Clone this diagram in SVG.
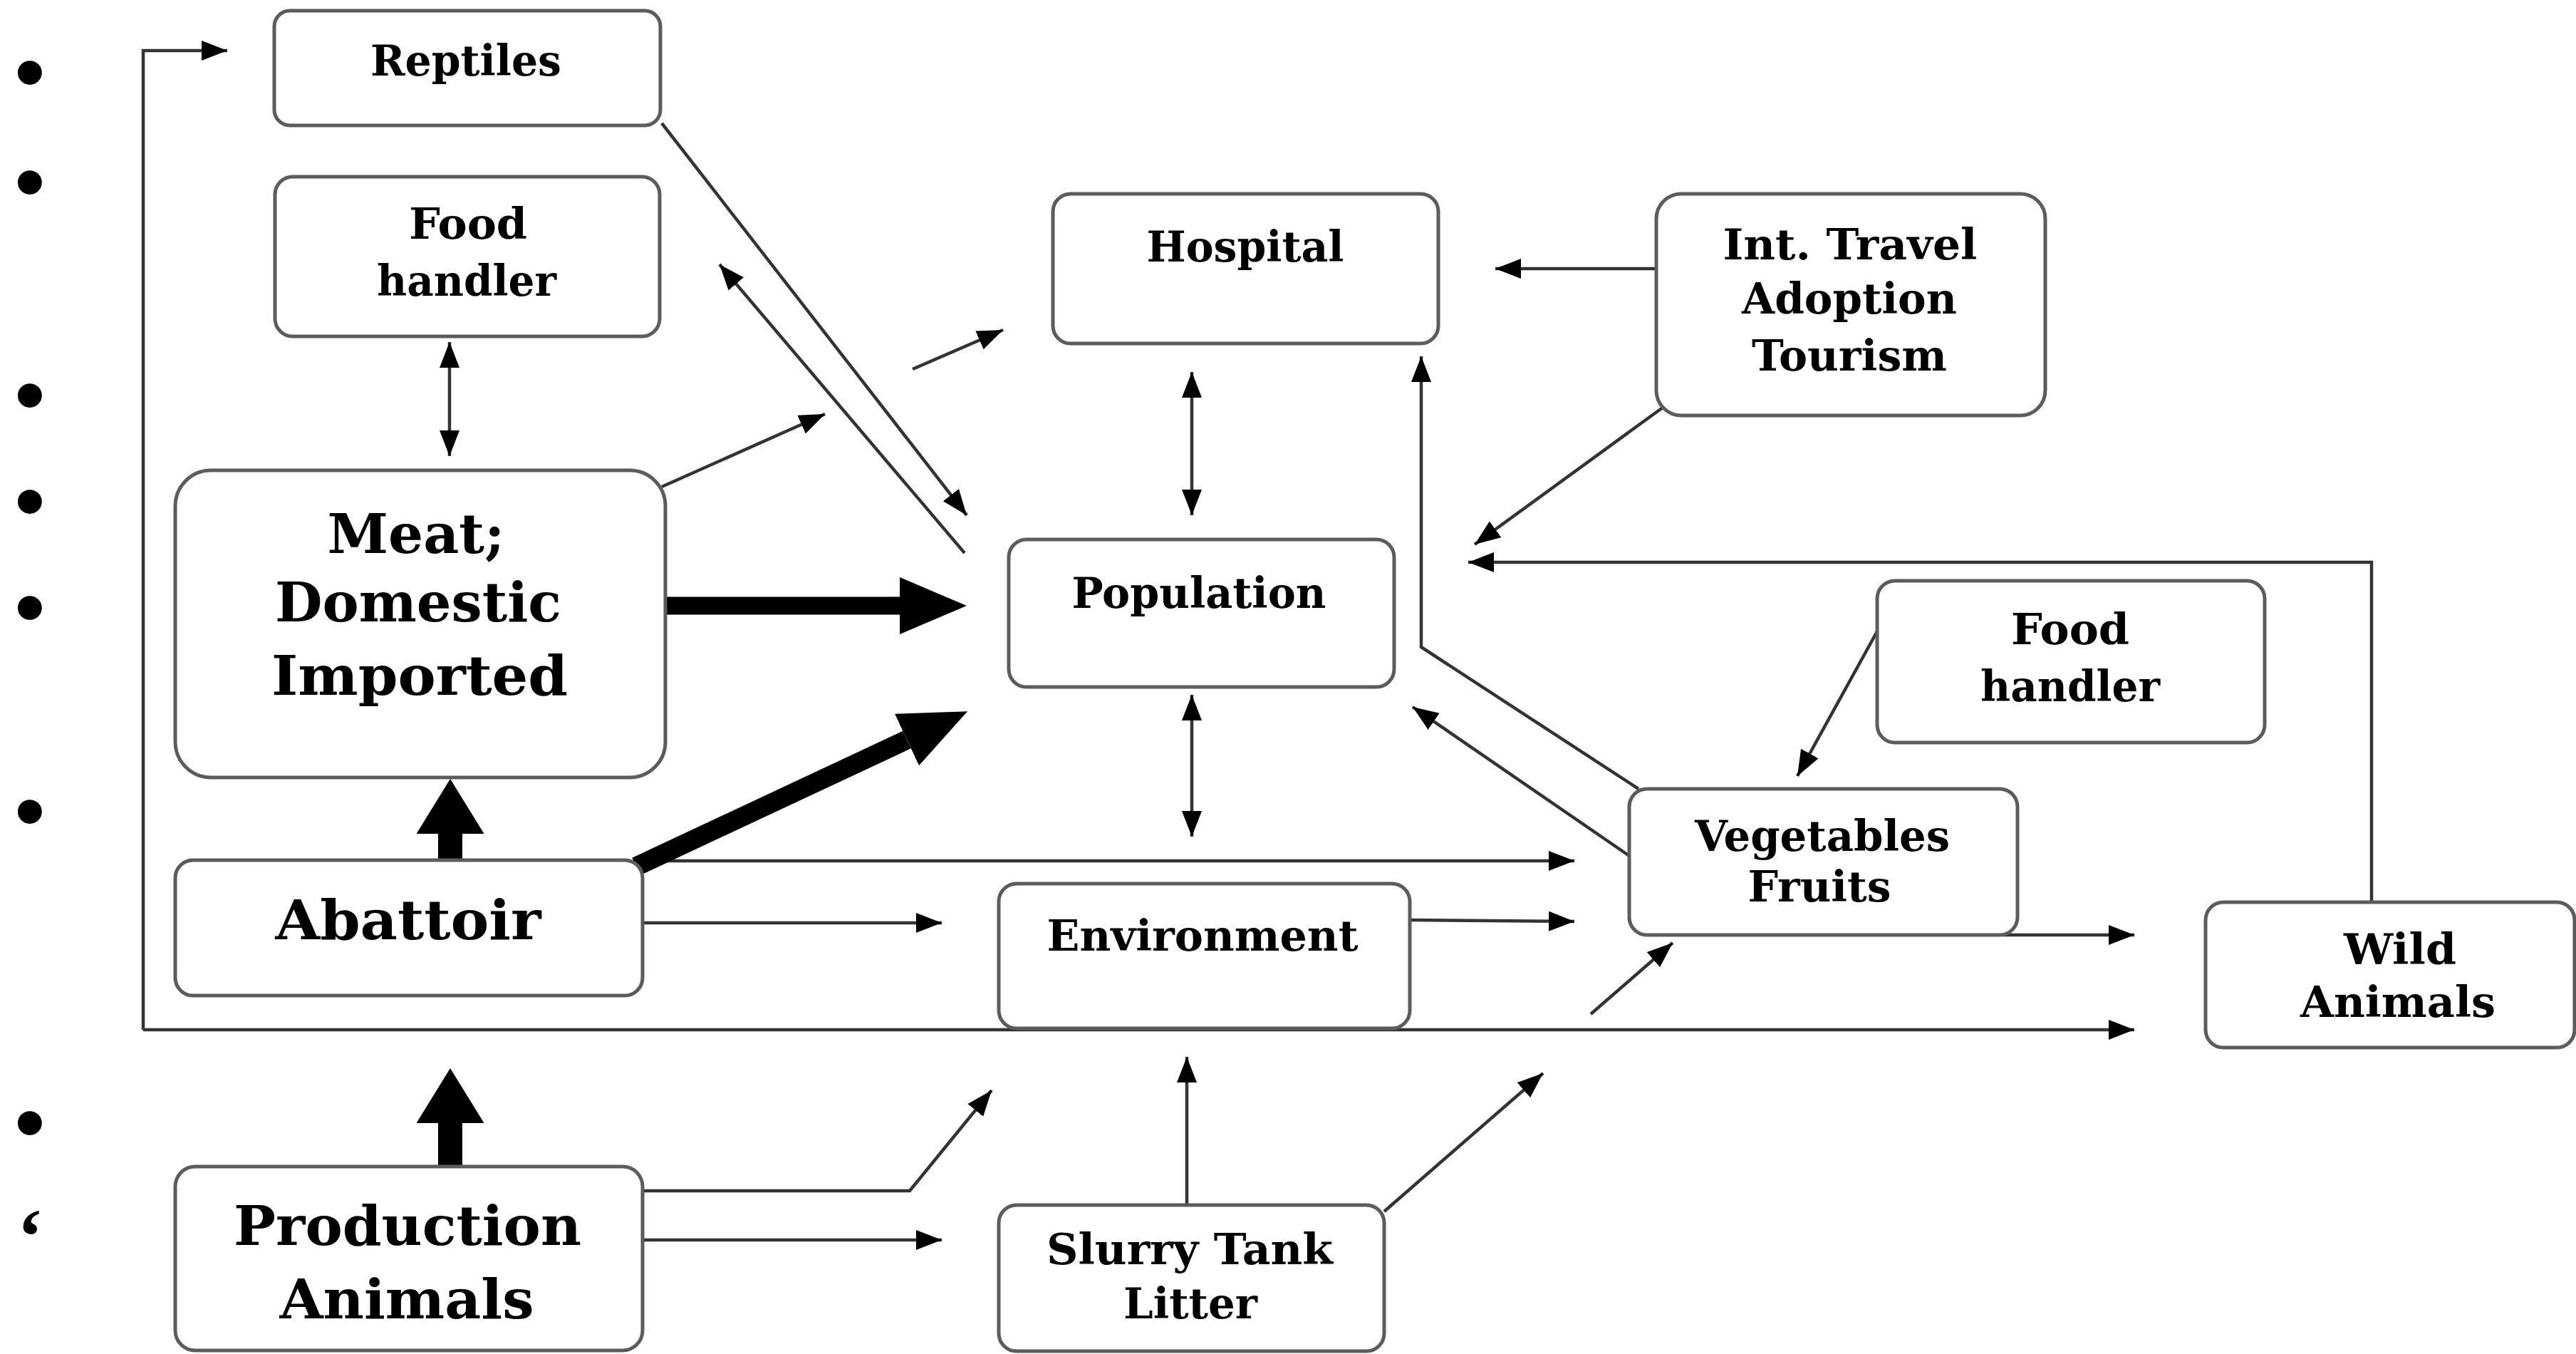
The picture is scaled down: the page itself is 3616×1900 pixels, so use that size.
<svg xmlns="http://www.w3.org/2000/svg" width="3616" height="1900" viewBox="0 0 3616 1900">
<style>
.box{fill:#fff;stroke:#5c5c5c;stroke-width:5}
.t{font-family:"DejaVu Serif","Liberation Serif",serif;font-weight:bold;font-size:59px;fill:#000;text-anchor:middle}
.tl{font-family:"DejaVu Serif","Liberation Serif",serif;font-weight:bold;font-size:77px;fill:#000;text-anchor:middle}
.c{fill:none;stroke:#333;stroke-width:4.5}
.bul{font-family:"Liberation Serif",serif;font-weight:bold;font-size:125px;fill:#000}
</style>
<defs>
<marker id="a" markerUnits="userSpaceOnUse" markerWidth="40" markerHeight="32" refX="36" refY="14" orient="auto-start-reverse"><path d="M0,0 L36,14 L0,28 z" fill="#000"/></marker>
<marker id="th" markerUnits="userSpaceOnUse" markerWidth="96" markerHeight="82" refX="0" refY="40" orient="auto"><path d="M0,0 L94,40 L0,80 z" fill="#000"/></marker>
<marker id="tv" markerUnits="userSpaceOnUse" markerWidth="80" markerHeight="96" refX="0" refY="47.5" orient="auto"><path d="M0,0 L77,47.5 L0,95 z" fill="#000"/></marker>
</defs>
<g id="bullets">
<text class="bul" x="20" y="144">•</text>
<text class="bul" x="20" y="298">•</text>
<text class="bul" x="20" y="597">•</text>
<text class="bul" x="20" y="746">•</text>
<text class="bul" x="20" y="895">•</text>
<text class="bul" x="20" y="1181">•</text>
<text class="bul" x="20" y="1618">•</text>
<text class="bul" x="24" y="1772" style="font-size:110px">‘</text>
</g>
<g id="connectors">
<path class="c" d="M201,1445 L201,71 L319,71" marker-end="url(#a)"/>
<path class="c" d="M201,1445 L2996,1445" marker-end="url(#a)"/>
<path class="c" d="M929,173 L1357,723" marker-end="url(#a)"/>
<path class="c" d="M1354,776 L1010,371" marker-end="url(#a)"/>
<path class="c" d="M631,480 L631,640" marker-start="url(#a)" marker-end="url(#a)"/>
<path class="c" d="M929,683 L1158,581" marker-end="url(#a)"/>
<path class="c" d="M1281,518 L1408,463" marker-end="url(#a)"/>
<path class="c" d="M1673,522 L1673,723" marker-start="url(#a)" marker-end="url(#a)"/>
<path class="c" d="M1673,975 L1673,1174" marker-start="url(#a)" marker-end="url(#a)"/>
<path class="c" d="M2328,377 L2099,377" marker-end="url(#a)"/>
<path class="c" d="M2338,569 L2070,764" marker-end="url(#a)"/>
<path class="c" d="M3329,1266 L3329,789 L2061,789" marker-end="url(#a)"/>
<path class="c" d="M2300,1107 L1995,908 L1995,500" marker-end="url(#a)"/>
<path class="c" d="M2290,1203 L1983,992" marker-end="url(#a)"/>
<path class="c" d="M2635,886 L2523,1089" marker-end="url(#a)"/>
<path class="c" d="M899,1208 L2210,1208" marker-end="url(#a)"/>
<path class="c" d="M902,1295 L1322,1295" marker-end="url(#a)"/>
<path class="c" d="M1979,1291 L2210,1293" marker-end="url(#a)"/>
<path class="c" d="M2810,1312 L2996,1312" marker-end="url(#a)"/>
<path class="c" d="M2233,1423 L2348,1323" marker-end="url(#a)"/>
<path class="c" d="M902,1671 L1277,1671 L1392,1530" marker-end="url(#a)"/>
<path class="c" d="M902,1740 L1322,1740" marker-end="url(#a)"/>
<path class="c" d="M1666,1691 L1666,1483" marker-end="url(#a)"/>
<path class="c" d="M1943,1700 L2166,1506" marker-end="url(#a)"/>
<path d="M934,850 L1263,850" stroke="#000" stroke-width="25" fill="none" marker-end="url(#th)"/>
<path d="M893,1216 L1273,1038" stroke="#000" stroke-width="27" fill="none" marker-end="url(#th)"/>
<path d="M632,1207 L632,1170" stroke="#000" stroke-width="34" fill="none" marker-end="url(#tv)"/>
<path d="M632,1637 L632,1576" stroke="#000" stroke-width="34" fill="none" marker-end="url(#tv)"/>
</g>
<g id="reptiles"><rect class="box" x="385" y="15" width="542" height="161" rx="22"/><text class="t" x="654" y="106" textLength="268" lengthAdjust="spacingAndGlyphs">Reptiles</text></g>
<g id="food-handler-1"><rect class="box" x="386" y="248" width="540" height="224" rx="25"/><text class="t" x="657" y="335" textLength="166" lengthAdjust="spacingAndGlyphs">Food</text><text class="t" x="655" y="415" textLength="252" lengthAdjust="spacingAndGlyphs">handler</text></g>
<g id="meat"><rect class="box" x="246" y="660" width="688" height="431" rx="50"/><text class="tl" x="584" y="776" textLength="249" lengthAdjust="spacingAndGlyphs">Meat;</text><text class="tl" x="587" y="872" textLength="402" lengthAdjust="spacingAndGlyphs">Domestic</text><text class="tl" x="589" y="975" textLength="416" lengthAdjust="spacingAndGlyphs">Imported</text></g>
<g id="abattoir"><rect class="box" x="246" y="1207" width="656" height="190" rx="25"/><text class="tl" x="573" y="1318" textLength="373" lengthAdjust="spacingAndGlyphs">Abattoir</text></g>
<g id="production-animals"><rect class="box" x="246" y="1637" width="656" height="258" rx="28"/><text class="tl" x="572" y="1747" textLength="488" lengthAdjust="spacingAndGlyphs">Production</text><text class="tl" x="571" y="1850" textLength="357" lengthAdjust="spacingAndGlyphs">Animals</text></g>
<g id="hospital"><rect class="box" x="1478" y="272" width="541" height="210" rx="25"/><text class="t" x="1748" y="367" textLength="277" lengthAdjust="spacingAndGlyphs">Hospital</text></g>
<g id="population"><rect class="box" x="1416" y="757" width="541" height="207" rx="25"/><text class="t" x="1683" y="853" textLength="357" lengthAdjust="spacingAndGlyphs">Population</text></g>
<g id="environment"><rect class="box" x="1402" y="1240" width="577" height="203" rx="25"/><text class="t" x="1688" y="1334" textLength="437" lengthAdjust="spacingAndGlyphs">Environment</text></g>
<g id="slurry-tank"><rect class="box" x="1402" y="1691" width="541" height="205" rx="25"/><text class="t" x="1670" y="1774" textLength="402" lengthAdjust="spacingAndGlyphs">Slurry Tank</text><text class="t" x="1671" y="1850" textLength="188" lengthAdjust="spacingAndGlyphs">Litter</text></g>
<g id="int-travel"><rect class="box" x="2325" y="272" width="546" height="311" rx="35"/><text class="t" x="2597" y="364" textLength="357" lengthAdjust="spacingAndGlyphs">Int. Travel</text><text class="t" x="2596" y="440" textLength="302" lengthAdjust="spacingAndGlyphs">Adoption</text><text class="t" x="2596" y="520" textLength="274" lengthAdjust="spacingAndGlyphs">Tourism</text></g>
<g id="food-handler-2"><rect class="box" x="2635" y="815" width="544" height="227" rx="25"/><text class="t" x="2906" y="904" textLength="166" lengthAdjust="spacingAndGlyphs">Food</text><text class="t" x="2906" y="984" textLength="252" lengthAdjust="spacingAndGlyphs">handler</text></g>
<g id="vegetables-fruits"><rect class="box" x="2287" y="1107" width="545" height="205" rx="25"/><text class="t" x="2558" y="1194" textLength="358" lengthAdjust="spacingAndGlyphs">Vegetables</text><text class="t" x="2554" y="1265" textLength="201" lengthAdjust="spacingAndGlyphs">Fruits</text></g>
<g id="wild-animals"><rect class="box" x="3096" y="1266" width="518" height="204" rx="25"/><text class="t" x="3369" y="1353" textLength="158" lengthAdjust="spacingAndGlyphs">Wild</text><text class="t" x="3366" y="1427" textLength="274" lengthAdjust="spacingAndGlyphs">Animals</text></g>
</svg>
